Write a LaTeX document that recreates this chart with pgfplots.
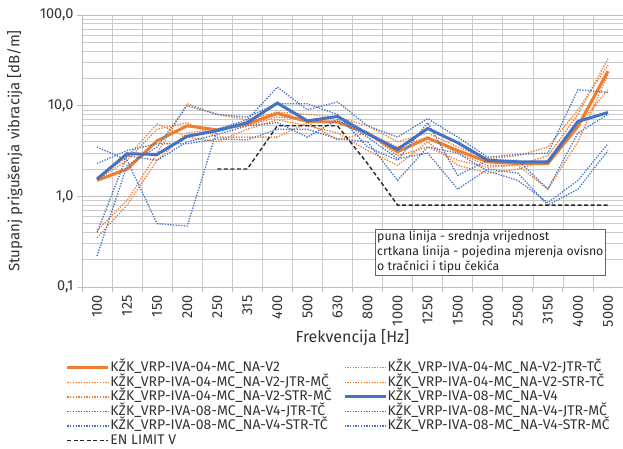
\documentclass[border=0pt]{standalone}
\usepackage{pgfplots}
\pgfplotsset{compat=1.18}
\usepackage{fontspec}
\setmainfont{Fira Sans}
\definecolor{xorange}{RGB}{237,125,49}
\definecolor{xblue}{RGB}{68,114,196}
\definecolor{xgrid}{RGB}{190,190,190}
\tikzset{xdot/.style={line width=1.3pt, dash pattern=on 1.3pt off 1.4pt}}
\begin{document}
\begin{tikzpicture}
\begin{axis}[
  name=ax,
  scale only axis,
  width=541pt, height=272pt,
  ymode=log,
  ymin=0.1, ymax=100,
  xmin=-0.5, xmax=17.5,
  xtick={0,...,17},
  xticklabels={100,125,150,200,250,315,400,500,630,800,1000,1250,1500,2000,2500,3150,4000,5000},
  x tick label style={rotate=90, anchor=east, font=\fontsize{14.5}{14.5}\selectfont, text=black!80},
  major x tick style={draw=none},
  minor xtick={-0.5,0.5,...,17.5},
  xminorgrids=true,
  minor x tick style={xgrid, line width=0.8pt},
  minor tick length=5pt,
  ytick={0.1,1,10,100},
  yticklabels={{0,1},{1,0},{10,0},{100,0}},
  y tick label style={font=\fontsize{14.5}{14.5}\selectfont, text=black!80},
  ymajorgrids=true, yminorgrids=true,
  major grid style={xgrid, line width=0.8pt},
  minor grid style={xgrid!80, line width=0.6pt},
  major y tick style={xgrid, line width=0.8pt},
  minor y tick style={draw=none},
  major tick length=5pt,
  tick align=outside,
  axis line style={xgrid, line width=0.8pt},
  axis x line*=bottom, axis y line*=left,
  xlabel={Frekvencija [Hz]},
  ylabel={Stupanj prigušenja vibracija [dB/m]},
  xlabel style={font=\fontsize{16}{16}\selectfont, text=black!80, at={(axis description cs:0.5,-0.1875)}, anchor=center},
  ylabel style={font=\fontsize{15}{15}\selectfont, text=black!80, at={(axis description cs:-0.124,0.5)}, anchor=center},
  legend columns=2,
  legend style={draw=none, fill=none, at={(axis description cs:-0.03,-0.271)}, anchor=north west,
    font=\fontsize{14}{14}\selectfont, text=black!80,
    nodes={inner sep=0.5pt, text height=10pt, text depth=2.5pt},
    /tikz/every even column/.append style={column sep=11pt},
    row sep=1.1pt, inner sep=0pt},
  legend cell align=left,
  legend image code/.code={\draw[#1] (0pt,0pt) -- (41pt,0pt);},
  clip=false,
]
% V2 mean
\addplot[xorange, line width=3pt] coordinates {(0,1.5)(1,2.0)(2,4.1)(3,6.0)(4,5.4)(5,6.3)(6,8.2)(7,6.7)(8,6.6)(9,5.0)(10,3.1)(11,4.4)(12,3.2)(13,2.4)(14,2.3)(15,2.3)(16,5.9)(17,24)};
\addlegendentry{KŽK\_VRP-IVA-04-MC\_NA-V2}
% V2-JTR-TČ
\addplot[xorange, xdot] coordinates {(0,0.35)(1,0.8)(2,2.5)(3,5.0)(4,5.5)(5,6.0)(6,7.5)(7,7.0)(8,6.5)(9,5.0)(10,3.5)(11,4.5)(12,3.0)(13,2.2)(14,2.2)(15,2.8)(16,8.0)(17,33)};
\addlegendentry{KŽK\_VRP-IVA-04-MC\_NA-V2-JTR-TČ}
% V2-JTR-MČ
\addplot[xorange, xdot] coordinates {(0,0.42)(1,0.9)(2,3.0)(3,10.5)(4,8.0)(5,7.0)(6,8.5)(7,8.0)(8,7.5)(9,6.0)(10,4.0)(11,5.0)(12,3.5)(13,2.6)(14,2.8)(15,3.5)(16,9.0)(17,28)};
\addlegendentry{KŽK\_VRP-IVA-04-MC\_NA-V2-JTR-MČ}
% V2-STR-TČ
\addplot[xorange, xdot] coordinates {(0,1.6)(1,2.7)(2,6.3)(3,4.5)(4,4.0)(5,5.5)(6,7.0)(7,6.0)(8,5.0)(9,3.2)(10,2.2)(11,4.0)(12,2.2)(13,1.8)(14,2.0)(15,2.5)(16,6.0)(17,15)};
\addlegendentry{KŽK\_VRP-IVA-04-MC\_NA-V2-STR-TČ}
% V2-STR-MČ
\addplot[xorange, xdot] coordinates {(0,1.5)(1,2.5)(2,5.5)(3,6.5)(4,4.5)(5,4.5)(6,4.5)(7,6.5)(8,4.2)(9,5.0)(10,2.8)(11,3.5)(12,2.5)(13,2.1)(14,2.2)(15,1.2)(16,4.0)(17,22)};
\addlegendentry{KŽK\_VRP-IVA-04-MC\_NA-V2-STR-MČ}
% V4 mean
\addplot[xblue, line width=3pt] coordinates {(0,1.55)(1,2.95)(2,2.9)(3,4.6)(4,5.3)(5,6.5)(6,10.7)(7,6.8)(8,7.6)(9,4.9)(10,3.3)(11,5.6)(12,3.9)(13,2.5)(14,2.4)(15,2.4)(16,6.7)(17,8.4)};
\addlegendentry{KŽK\_VRP-IVA-08-MC\_NA-V4}
% V4-JTR-TČ
\addplot[xblue, xdot] coordinates {(0,3.5)(1,2.5)(2,0.5)(3,0.47)(4,5.5)(5,7.0)(6,16)(7,9.0)(8,11)(9,6.0)(10,4.5)(11,7.2)(12,4.5)(13,2.7)(14,2.9)(15,3.0)(16,15)(17,14)};
\addlegendentry{KŽK\_VRP-IVA-08-MC\_NA-V4-JTR-TČ}
% V4-JTR-MČ
\addplot[xblue, xdot] coordinates {(0,0.22)(1,2.2)(2,3.5)(3,10)(4,8.0)(5,7.5)(6,10.5)(7,10.5)(8,8.0)(9,3.5)(10,2.5)(11,6.5)(12,1.7)(13,2.5)(14,2.5)(15,1.2)(16,5.0)(17,8.0)};
\addlegendentry{KŽK\_VRP-IVA-08-MC\_NA-V4-JTR-MČ}
% V4-STR-TČ
\addplot[xblue, xdot] coordinates {(0,2.3)(1,3.2)(2,3.8)(3,3.8)(4,4.3)(5,4.2)(6,5.5)(7,5.5)(8,4.3)(9,4.0)(10,1.5)(11,3.5)(12,3.0)(13,1.9)(14,1.5)(15,0.85)(16,1.5)(17,3.8)};
\addlegendentry{KŽK\_VRP-IVA-08-MC\_NA-V4-STR-TČ}
% V4-STR-MČ
\addplot[xblue, xdot] coordinates {(0,0.4)(1,2.8)(2,2.5)(3,4.0)(4,4.8)(5,6.0)(6,6.5)(7,4.5)(8,7.0)(9,4.5)(10,2.6)(11,3.0)(12,1.2)(13,2.0)(14,1.8)(15,0.8)(16,1.2)(17,3.2)};
\addlegendentry{KŽK\_VRP-IVA-08-MC\_NA-V4-STR-MČ}
% EN limit
\addplot[black!85, line width=1.4pt, dash pattern=on 4pt off 2.5pt] coordinates {(4,2)(5,2)(6,6)(7,6)(8,6)(9,2.3)(10,0.8)(11,0.8)(12,0.8)(13,0.8)(14,0.8)(15,0.8)(16,0.8)(17,0.8)};
\addlegendentry{EN LIMIT V}
\node[draw=black!60, fill=white, anchor=north west, align=left, inner sep=2pt,
  font=\fontsize{12.3}{15.2}\selectfont, text=black!85] at (axis cs:9.25,0.44)
  {puna linija - srednja vrijednost\\crtkana linija - pojedina mjerenja ovisno\\o tračnici i tipu čekića};
\end{axis}
\pgfresetboundingbox
\path[use as bounding box] ([xshift=-82pt,yshift=-162pt]ax.south west) rectangle ([yshift=15pt]ax.north east);
\end{tikzpicture}
\end{document}
